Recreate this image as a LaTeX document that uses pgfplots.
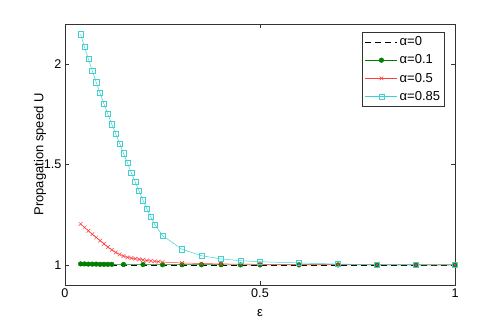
\documentclass[border=0pt]{standalone}
\usepackage{fontspec}
\setmainfont{Liberation Sans}
\usepackage{pgfplots}
\pgfplotsset{compat=1.18}

\definecolor{mcyan}{RGB}{64,208,208}
\definecolor{mred}{RGB}{255,60,60}
\definecolor{mgreen}{RGB}{0,128,0}

\begin{document}
\begin{tikzpicture}[x=1pt,y=1pt]
\begin{axis}[
    scale only axis,
    width=390pt, height=261pt,
    xmin=0, xmax=1, ymin=0.9, ymax=2.2,
    xtick={0,0.5,1}, ytick={1,1.5,2},
    tick align=inside,
    major tick length=4pt,
    axis line style={black!80, line width=0.5pt},
    tick style={black!80, line width=0.5pt},
    /pgf/number format/assume math mode=true,
    ticklabel style={font=\fontsize{12.6}{14}\selectfont},
    xlabel={ε},
    ylabel={Propagation speed U},
    label style={font=\fontsize{13}{15}\selectfont},
    xlabel style={at={(axis description cs:0.5,-0.107)}, anchor=center},
    ylabel style={at={(axis description cs:-0.064,0.5)}, anchor=center},
    legend style={at={(axis description cs:0.974,0.969)}, anchor=north east,
        draw=black!80, line width=0.5pt, font=\fontsize{13}{15}\selectfont,
        row sep=3.5pt, inner sep=2.5pt},
    legend cell align=left,
    legend image code/.code={\draw[mark repeat=2,mark phase=2,#1] plot coordinates {(0pt,0pt) (16pt,0pt) (32pt,0pt)};},
]
% alpha = 0
\addplot[black, dash pattern=on 6pt off 4pt, line width=0.5pt] coordinates {
(0.04,1) (0.1,1) (0.2,1) (0.3,1) (0.4,1) (0.5,1) (0.6,1) (0.7,1) (0.8,1) (0.9,1) (1.0,1)};
% alpha = 0.1
\addplot[mgreen, line width=0.5pt, mark=*, mark size=2.3pt, mark options={solid, fill=mgreen}] coordinates {
(0.04,1.005) (0.05,1.005) (0.06,1.004) (0.07,1.004) (0.08,1.004) (0.09,1.003) (0.10,1.003) (0.11,1.003) (0.12,1.003)
(0.15,1.002) (0.20,1.002) (0.25,1.001) (0.30,1.001) (0.35,1.001) (0.40,1.001) (0.45,1.000) (0.50,1.000)
(0.60,1.000) (0.70,1.000) (0.80,1.000) (0.90,1.000) (1.00,1.000)};
% alpha = 0.5
\addplot[mred, line width=0.5pt, mark=x, mark size=2.6pt, mark options={solid}] coordinates {
(0.04,1.204) (0.05,1.187) (0.06,1.170) (0.07,1.153) (0.08,1.137) (0.09,1.121) (0.10,1.105) (0.11,1.089)
(0.12,1.075) (0.13,1.062) (0.14,1.052) (0.15,1.044) (0.16,1.038) (0.17,1.034) (0.18,1.031) (0.19,1.028)
(0.20,1.025) (0.21,1.022) (0.22,1.020) (0.23,1.018) (0.24,1.016) (0.25,1.014) (0.30,1.010) (0.35,1.007)
(0.40,1.005) (0.45,1.004) (0.50,1.003) (0.60,1.002) (0.70,1.001) (0.80,1.001) (0.90,1.000) (1.00,1.000)};
% alpha = 0.85
\addplot[mcyan, line width=0.5pt, mark=square, mark size=2.6pt, mark options={solid}] coordinates {
(0.04,2.149) (0.05,2.086) (0.06,2.025) (0.07,1.967) (0.08,1.910) (0.09,1.856) (0.10,1.802) (0.11,1.751)
(0.12,1.701) (0.13,1.653) (0.14,1.605) (0.15,1.556) (0.16,1.509) (0.17,1.459) (0.18,1.413) (0.19,1.368)
(0.20,1.322) (0.21,1.279) (0.22,1.239) (0.23,1.202) (0.25,1.146) (0.30,1.078) (0.35,1.046) (0.40,1.030)
(0.45,1.021) (0.50,1.016) (0.60,1.010) (0.70,1.004) (0.80,1.002) (0.90,1.001) (1.00,1.000)};
\legend{α=0, α=0.1, α=0.5, α=0.85}
\end{axis}
\path[use as bounding box] ([xshift=-65pt,yshift=-37pt]current axis.south west) rectangle ([xshift=48pt,yshift=24pt]current axis.north east);
\end{tikzpicture}
\end{document}
